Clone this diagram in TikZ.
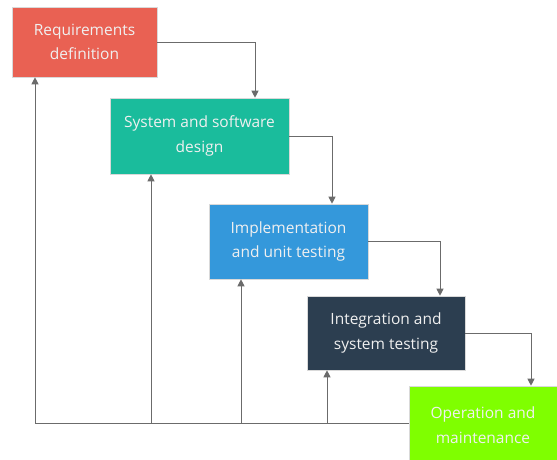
\documentclass[tikz,border=0pt]{standalone}
\usepackage{fontspec}
\setmainfont{Open Sans}
\usetikzlibrary{arrows.meta}
\definecolor{creq}{HTML}{E96153}
\definecolor{csys}{HTML}{1ABC9C}
\definecolor{cimp}{HTML}{3498DB}
\definecolor{cint}{HTML}{2C3E50}
\definecolor{cop}{HTML}{7FFF00}
\definecolor{cline}{HTML}{6B6B6B}
\begin{document}
\begin{tikzpicture}[x=1pt,y=-1pt,
  stage/.style={draw=white!85!black, line width=0.6pt, text=white!94!black, align=center, font=\fontsize{15.5}{24.5}\selectfont, inner sep=0pt},
  conn/.style={draw=cline, line width=1pt, -{Triangle[length=7pt,width=7pt]}},
  plain/.style={draw=cline, line width=1pt}]
\useasboundingbox (0,0) rectangle (557,459);
\fill[white] (0,0) rectangle (557,459);
\node[stage, fill=creq, minimum width=145pt, minimum height=70pt] (req) at (84.5,42) {Requirements\\definition};
\node[stage, fill=csys, minimum width=179pt, minimum height=76pt] (sys) at (199.5,136) {System and software\\design};
\node[stage, fill=cimp, minimum width=159pt, minimum height=75pt] (imp) at (288.5,241.5) {Implementation\\and unit testing};
\node[stage, fill=cint, minimum width=158pt, minimum height=74pt] (int) at (386,333) {Integration and\\system testing};
\node[stage, fill=cop, minimum width=148pt, minimum height=78pt] (op) at (483,425) {Operation and\\maintenance};
% forward arrows
\draw[conn] (req.east) -| (sys.north -| 255,0);
\draw[conn] (sys.east) -| (imp.north -| 332,0);
\draw[conn] (imp.east) -| (int.north -| 440,0);
\draw[conn] (int.east) -| (op.north -| 531,0);
% feedback
\coordinate (b0) at (35,423);
\coordinate (b1) at (151,423);
\coordinate (b2) at (241,423);
\coordinate (b3) at (327,423);
\draw[plain] (op.west |- b0) -- (b0);
\draw[conn] (b0) -- (req.south -| b0);
\draw[conn] (b1) -- (sys.south -| b1);
\draw[conn] (b2) -- (imp.south -| b2);
\draw[conn] (b3) -- (int.south -| b3);
\end{tikzpicture}
\end{document}
